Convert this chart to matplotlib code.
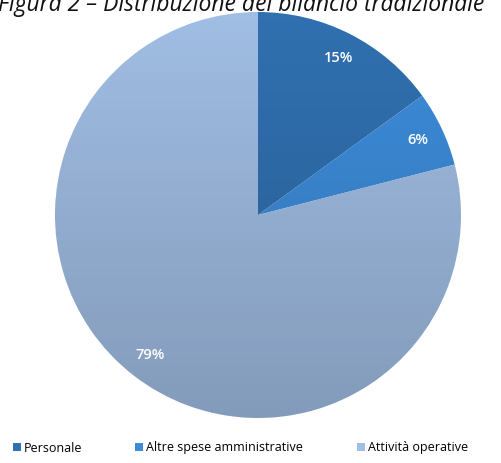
import numpy as np
import matplotlib.pyplot as plt
from matplotlib.patches import Circle
from matplotlib.lines import Line2D

categories = ["Personale", "Altre spese amministrative", "Attività operative"]
shares = [15, 6, 79]
colors = ["#3070b0", "#3d8cda", "#a0bde3"]

W, H = 501, 463
fig = plt.figure(figsize=(W / 100, H / 100), dpi=100)

# pie axes: centre (258, 215) px from top-left, radius 203 px
cx, cy, r = 258, 215, 203
ax = fig.add_axes([(cx - r) / W, (H - cy - r) / H, 2 * r / W, 2 * r / H])

wedges, texts, autotexts = ax.pie(
    shares, colors=colors, startangle=90, counterclock=False,
    autopct="%d%%", pctdistance=0.87, radius=1,
    textprops=dict(color="white", fontsize=10.5, fontweight="semibold",
                   fontfamily="Open Sans"),
    wedgeprops=dict(linewidth=0))
ax.set_xlim(-1, 1)
ax.set_ylim(-1, 1)

# soft vertical shading over the pie, darker towards the bottom
grad = np.linspace(0, 1, 256).reshape(-1, 1)
shade = np.zeros((256, 1, 4))
shade[..., 3] = 0.18 * grad
img = ax.imshow(shade, extent=(-1, 1, -1, 1), origin="upper", aspect="auto", zorder=3)
img.set_clip_path(Circle((0, 0), 1, transform=ax.transData))
for t in autotexts:
    t.set_zorder(5)

fig.text(241 / W, 1 - 5 / H, "Figura 2 – Distribuzione del bilancio tradizionale",
         ha="center", va="center", fontsize=16.5, style="italic",
         fontfamily="Open Sans", color="#111111")

handles = [Line2D([], [], marker="s", linestyle="", markersize=5.5,
                  markerfacecolor=c, markeredgewidth=0) for c in colors]
fig.legend(handles, categories, loc="center left", bbox_to_anchor=(0.003, 1 - 448 / H),
           ncol=3, frameon=False, handlelength=0.6, handletextpad=0.25,
           columnspacing=4.3, prop=dict(family="Open Sans", size=9))

fig.savefig("out.png", dpi=100)
